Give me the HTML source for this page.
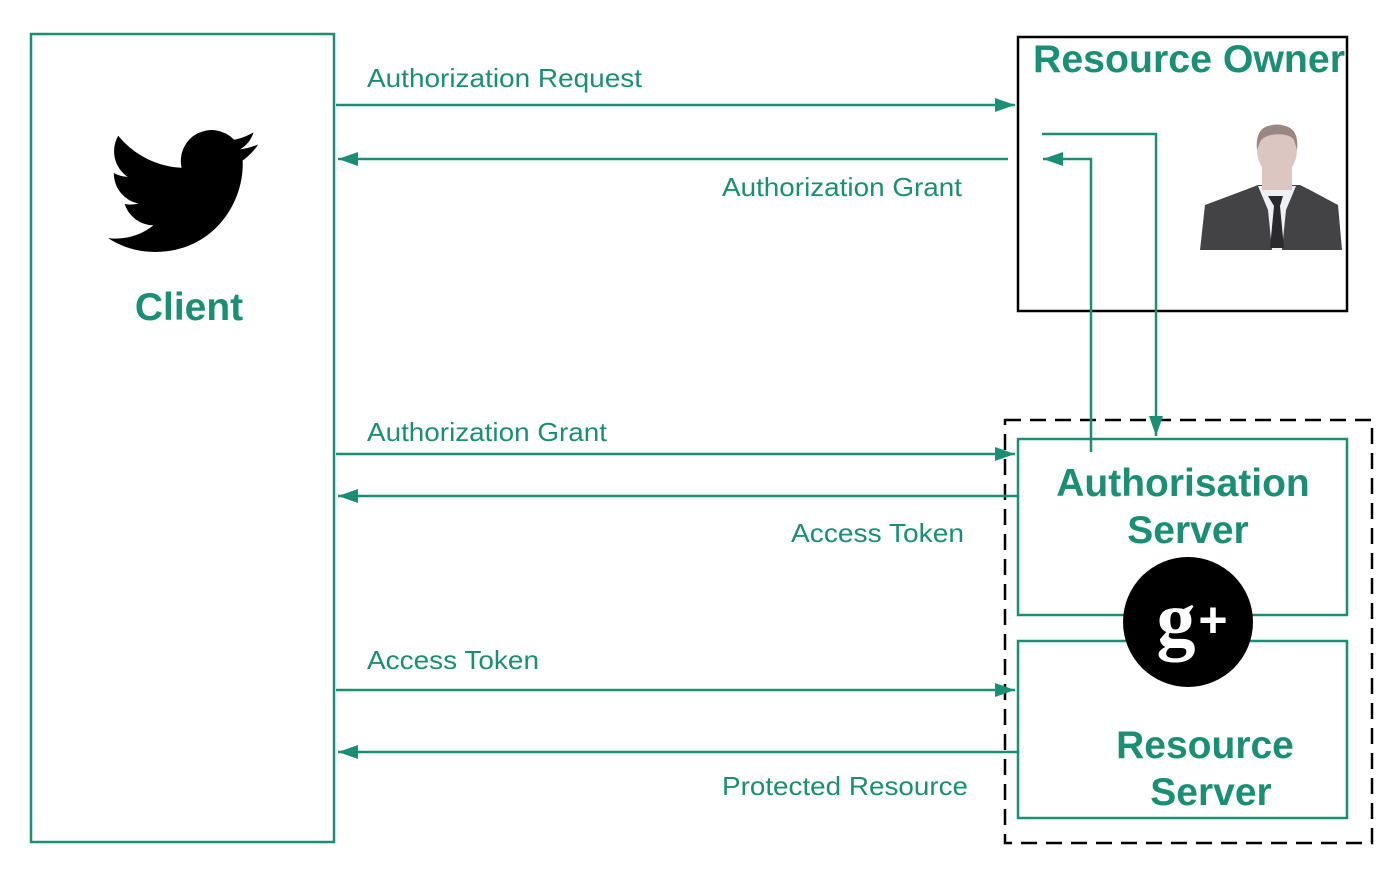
<!DOCTYPE html>
<html><head><style>html,body{margin:0;padding:0;background:#fff}svg{display:block}</style></head>
<body>
<svg width="1400" height="877" viewBox="0 0 1400 877" xmlns="http://www.w3.org/2000/svg" font-family="Liberation Sans, sans-serif">
<defs>
<marker id="a" viewBox="0 0 20 14" refX="20" refY="7" markerWidth="20" markerHeight="14" markerUnits="userSpaceOnUse" orient="auto"><path d="M0,0 L20,7 L0,14 z" fill="#1a8f73"/></marker>
</defs>
<g fill="none" stroke="#1a8f73" stroke-width="2.5">
<rect x="31" y="34" width="303" height="808"/>
<rect x="1018" y="439" width="329" height="176"/>
<rect x="1018" y="641" width="329" height="177"/>
</g>
<rect x="1018" y="37" width="329" height="274" fill="none" stroke="#000" stroke-width="2.5"/>
<rect x="1005" y="420" width="367" height="423" fill="none" stroke="#000" stroke-width="2.5" stroke-dasharray="16,9"/>
<g fill="none" stroke="#1a8f73" stroke-width="2.5">
<line x1="336" y1="105" x2="1015" y2="105" marker-end="url(#a)"/>
<line x1="1008" y1="159" x2="338" y2="159" marker-end="url(#a)"/>
<polyline points="1042,134 1156,134 1156,436" marker-end="url(#a)"/>
<polyline points="1091,452 1091,159 1043,159" marker-end="url(#a)"/>
<line x1="336" y1="454" x2="1015" y2="454" marker-end="url(#a)"/>
<line x1="1018" y1="496" x2="338" y2="496" marker-end="url(#a)"/>
<line x1="336" y1="690" x2="1015" y2="690" marker-end="url(#a)"/>
<line x1="1018" y1="752" x2="338" y2="752" marker-end="url(#a)"/>
</g>
<g fill="#1a8f73" font-size="26">
<text x="367" y="87" textLength="275" lengthAdjust="spacingAndGlyphs">Authorization Request</text>
<text x="722" y="196" textLength="240" lengthAdjust="spacingAndGlyphs">Authorization Grant</text>
<text x="367" y="441" textLength="240" lengthAdjust="spacingAndGlyphs">Authorization Grant</text>
<text x="791" y="542" textLength="173" lengthAdjust="spacingAndGlyphs">Access Token</text>
<text x="367" y="669" textLength="172" lengthAdjust="spacingAndGlyphs">Access Token</text>
<text x="722" y="795" textLength="246" lengthAdjust="spacingAndGlyphs">Protected Resource</text>
</g>
<g fill="#1a8f73" font-size="39" font-weight="bold" text-anchor="middle">
<text x="189" y="320">Client</text>
<text x="1189" y="72" textLength="312" lengthAdjust="spacingAndGlyphs">Resource Owner</text>
<text x="1183" y="496">Authorisation</text>
<text x="1188" y="543">Server</text>
<text x="1205" y="758">Resource</text>
<text x="1211" y="805">Server</text>
</g>
<path transform="translate(108,116) scale(6.25)" fill="#000" d="M23.953 4.57a10 10 0 01-2.825.775 4.958 4.958 0 002.163-2.723c-.951.555-2.005.959-3.127 1.184a4.92 4.92 0 00-8.384 4.482C7.69 8.095 4.067 6.13 1.64 3.162a4.822 4.822 0 00-.666 2.475c0 1.71.87 3.213 2.188 4.096a4.904 4.904 0 01-2.228-.616v.06a4.923 4.923 0 003.946 4.827 4.996 4.996 0 01-2.212.085 4.936 4.936 0 004.604 3.417 9.867 9.867 0 01-6.102 2.105c-.39 0-.779-.023-1.17-.067a13.995 13.995 0 007.557 2.209c9.053 0 13.998-7.496 13.998-13.985 0-.21 0-.42-.015-.63A9.935 9.935 0 0024 4.59z"/>
<path d="M1200,250 L1205,205 L1245,190 L1258,185 L1300,185 L1310,190 L1338,205 L1342,250 Z" fill="#434346"/>
<path d="M1258,186 L1268,210 L1272,250 L1282,250 L1286,210 L1296,186 Z" fill="#eef0f4"/>
<path d="M1268,196 L1283,196 L1280,206 L1284,248 L1270,248 L1274,206 Z" fill="#2a2a2e"/>
<rect x="1262" y="162" width="30" height="28" fill="#dcc6c1"/>
<ellipse cx="1277" cy="150" rx="20" ry="26" fill="#dcc6c1"/>
<path d="M1257,150 C1255,128 1266,125 1277,125 C1290,125 1299,130 1297,150 L1294,140 C1290,132 1265,132 1260,142 Z" fill="#9a8683"/>
<circle cx="1188" cy="622" r="65" fill="#000"/>
<text x="1176" y="645" font-family="Liberation Serif, serif" font-size="78" font-weight="bold" fill="#fff" text-anchor="middle">g</text>
<text x="1213" y="637" font-family="Liberation Sans, sans-serif" font-size="50" font-weight="bold" fill="#fff" text-anchor="middle">+</text>
</svg>
</body></html>
